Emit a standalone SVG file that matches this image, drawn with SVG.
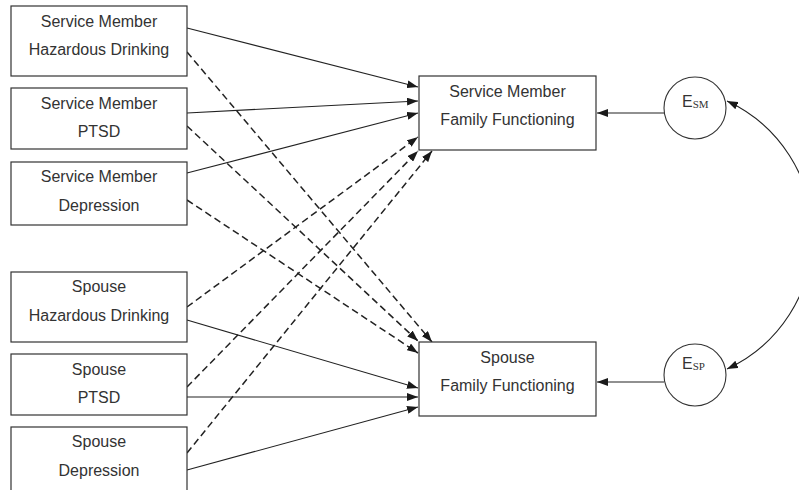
<svg xmlns="http://www.w3.org/2000/svg" width="799" height="490" viewBox="0 0 799 490">
<defs>
<marker id="ah" viewBox="0 0 11 8" refX="11" refY="4" markerWidth="11" markerHeight="8" markerUnits="userSpaceOnUse" orient="auto-start-reverse">
<path d="M0,0 L11,4 L0,8 z" fill="#1a1a1a"/>
</marker>
<style>
.box{fill:#fff;stroke:#333;stroke-width:1.2}
.t{font-family:"Liberation Sans",Arial,sans-serif;font-size:16px;fill:#333;text-anchor:middle}
.sub{font-family:"Liberation Serif","Times New Roman",serif;font-size:11px;fill:#333}
.s{fill:none;stroke:#222;stroke-width:1.1;marker-end:url(#ah)}
.d{fill:none;stroke:#222;stroke-width:1.5;stroke-dasharray:7 4;marker-end:url(#ah)}
.c{fill:#fff;stroke:#333;stroke-width:1.1}
</style>
</defs>
<rect width="799" height="490" fill="#fff"/>
<g id="connectors">
<line class="s" x1="187" y1="28" x2="418" y2="87"/>
<line class="s" x1="187" y1="113" x2="418" y2="101"/>
<line class="s" x1="187" y1="173" x2="418" y2="113"/>
<line class="s" x1="187" y1="320" x2="418" y2="388"/>
<line class="s" x1="187" y1="397" x2="418" y2="397"/>
<line class="s" x1="187" y1="470" x2="418" y2="407"/>
<line class="d" x1="187" y1="52" x2="432" y2="342"/>
<line class="d" x1="187" y1="126" x2="418" y2="341"/>
<line class="d" x1="187" y1="200" x2="418" y2="353"/>
<line class="d" x1="187" y1="307" x2="418" y2="137"/>
<line class="d" x1="187" y1="387" x2="418" y2="151"/>
<line class="d" x1="187" y1="453" x2="432" y2="151"/>
<line class="s" x1="664" y1="113" x2="597" y2="113"/>
<line class="s" x1="664" y1="382" x2="597" y2="382"/>
<path d="M727,101 A147.6,147.6 0 0 1 727,369" fill="none" stroke="#222" stroke-width="1.1" marker-start="url(#ah)" marker-end="url(#ah)"/>
</g>
<g id="sm-drinking">
<rect class="box" x="11" y="6" width="176" height="70"/>
<text class="t" x="99" y="27">Service Member</text>
<text class="t" x="99" y="55">Hazardous Drinking</text>
</g>
<g id="sm-ptsd">
<rect class="box" x="11" y="88" width="176" height="61"/>
<text class="t" x="99" y="109">Service Member</text>
<text class="t" x="99" y="137">PTSD</text>
</g>
<g id="sm-depression">
<rect class="box" x="11" y="162" width="176" height="63"/>
<text class="t" x="99" y="182">Service Member</text>
<text class="t" x="99" y="211">Depression</text>
</g>
<g id="sp-drinking">
<rect class="box" x="11" y="272" width="176" height="70"/>
<text class="t" x="99" y="292">Spouse</text>
<text class="t" x="99" y="321">Hazardous Drinking</text>
</g>
<g id="sp-ptsd">
<rect class="box" x="11" y="354" width="176" height="61"/>
<text class="t" x="99" y="375">Spouse</text>
<text class="t" x="99" y="403">PTSD</text>
</g>
<g id="sp-depression">
<rect class="box" x="11" y="427" width="176" height="70"/>
<text class="t" x="99" y="447">Spouse</text>
<text class="t" x="99" y="476">Depression</text>
</g>
<g id="sm-ff">
<rect class="box" x="419" y="76" width="177" height="74"/>
<text class="t" x="507.5" y="97">Service Member</text>
<text class="t" x="507.5" y="125">Family Functioning</text>
</g>
<g id="sp-ff">
<rect class="box" x="419" y="342" width="177" height="74"/>
<text class="t" x="507.5" y="363">Spouse</text>
<text class="t" x="507.5" y="391">Family Functioning</text>
</g>
<g id="e-sm">
<circle class="c" cx="695" cy="108" r="31"/>
<text x="682" y="107" style="font-family:'Liberation Sans',Arial,sans-serif;font-size:16px;fill:#333">E<tspan class="sub" dy="1">SM</tspan></text>
</g>
<g id="e-sp">
<circle class="c" cx="695" cy="375" r="31"/>
<text x="682" y="369" style="font-family:'Liberation Sans',Arial,sans-serif;font-size:16px;fill:#333">E<tspan class="sub" dy="1">SP</tspan></text>
</g>
</svg>
